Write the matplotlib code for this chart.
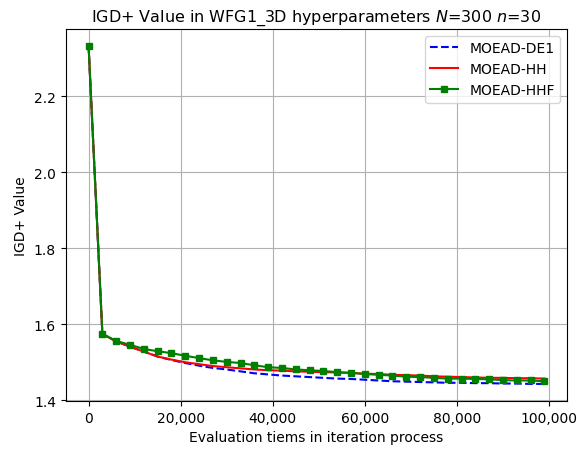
import matplotlib
matplotlib.use("Agg")
import matplotlib.pyplot as plt
from matplotlib.ticker import FuncFormatter

# evaluations (x) and IGD+ values per algorithm
evals = list(range(0, 100000, 3000))

de1 = [2.333, 1.574, 1.555, 1.541, 1.528, 1.515, 1.506, 1.498, 1.491, 1.485,
       1.481, 1.476, 1.471, 1.468, 1.465, 1.463, 1.461, 1.459, 1.457, 1.456,
       1.454, 1.452, 1.450, 1.449, 1.448, 1.447, 1.446, 1.446, 1.445, 1.445,
       1.444, 1.444, 1.443, 1.443]

hh = [2.333, 1.574, 1.555, 1.541, 1.528, 1.515, 1.507, 1.500, 1.495, 1.490,
      1.487, 1.484, 1.481, 1.479, 1.478, 1.476, 1.475, 1.474, 1.473, 1.472,
      1.470, 1.469, 1.467, 1.466, 1.465, 1.463, 1.462, 1.461, 1.460, 1.459,
      1.459, 1.458, 1.458, 1.457]

hhf = [2.333, 1.575, 1.556, 1.546, 1.535, 1.529, 1.524, 1.517, 1.511, 1.505,
       1.501, 1.498, 1.492, 1.487, 1.485, 1.481, 1.479, 1.477, 1.474, 1.472,
       1.469, 1.467, 1.465, 1.462, 1.461, 1.459, 1.457, 1.457, 1.456, 1.455,
       1.453, 1.452, 1.452, 1.450]

fig, ax = plt.subplots(figsize=(5.77, 4.52), dpi=100)
fig.subplots_adjust(left=0.114, right=0.983, top=0.934, bottom=0.111)

ax.plot(evals, de1, "b--", label="MOEAD-DE1")
ax.plot(evals, hh, "r-", label="MOEAD-HH")
ax.plot(evals, hhf, "g-", marker="s", markersize=4, label="MOEAD-HHF")

ax.xaxis.set_major_formatter(FuncFormatter(lambda v, p: f"{int(v):,}"))
ax.set_yticks([1.4, 1.6, 1.8, 2.0, 2.2])

ax.grid(True)
ax.legend(loc="upper right")

ax.set_xlabel("Evaluation tiems in iteration process")
ax.set_ylabel("IGD+ Value")
ax.set_title("IGD+ Value in WFG1_3D hyperparameters $N$=300 $n$=30", fontsize=11.5)

plt.savefig("out.png", dpi=100)
